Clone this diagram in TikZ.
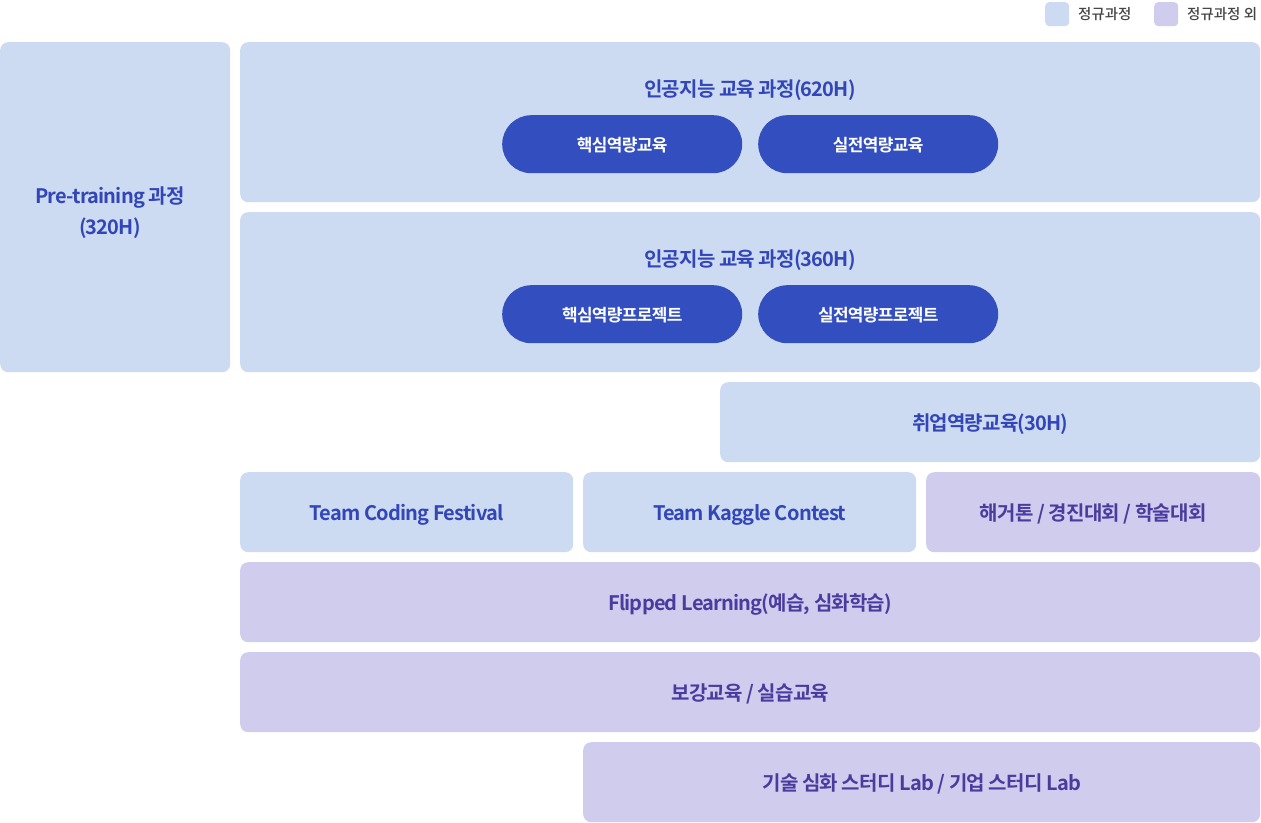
\documentclass[tikz,border=0pt]{standalone}
\usepackage{fontspec}
\setmainfont{Noto Sans CJK KR}[UprightFont=* Medium,BoldFont=* Bold]
\newfontfamily\boxfont{Noto Sans CJK KR}[UprightFont=* Bold,LetterSpace=-4]
\usepackage{xcolor}
\definecolor{regbg}{HTML}{CCDBF1}
\definecolor{regtext}{HTML}{3346B8}
\definecolor{extbg}{HTML}{D0CCEE}
\definecolor{exttext}{HTML}{4A3B9E}
\definecolor{pillbg}{HTML}{334EBF}
\definecolor{legtext}{HTML}{444444}
\tikzset{x=1pt,y=-1pt,
 box/.style={anchor=north west,inner sep=0pt,rounded corners=8pt,text depth=0pt,
  font=\boxfont\fontsize{20}{24}\selectfont},
 regular/.style={box,fill=regbg,text=regtext},
 extra/.style={box,fill=extbg,text=exttext},
 pill/.style={anchor=north west,inner sep=0pt,rounded corners=29pt,fill=pillbg,text=white,text depth=0pt,
  minimum width=240pt,minimum height=58pt,font=\boxfont\fontsize{17}{20}\selectfont},
 legbox/.style={anchor=north west,inner sep=0pt,rounded corners=4pt,minimum size=24pt},
 legend/.style={anchor=west,inner sep=0pt,text=legtext,font=\fontsize{14.5}{16}\selectfont},
 }

\begin{document}
\begin{tikzpicture}
        \useasboundingbox (0,0) rectangle (1261,822);
        % legend
        \node[legbox,fill=regbg] (legreg) at (1045,2) {};
        \node[legend] (legregtext) at (1078,14) {정규과정};
        \node[legbox,fill=extbg] (legext) at (1154,2) {};
        \node[legend] (legexttext) at (1187,14) {정규과정 외};
        % regular courses
        \node[regular,minimum width=230pt,minimum height=330pt] (pre) at (0,42) {};
        \node[regular,anchor=center,fill=none,align=center,text depth=] (pretitle) at (110,213)
            {Pre-training 과정\\[7pt](320H)};
        \node[regular,minimum width=1020pt,minimum height=160pt] (ai620) at (240,42) {};
        \node[regular,anchor=center,fill=none] (ai620title) at (750,88) {인공지능 교육 과정(620H)};
        \node[pill] (core620) at (502,115) {핵심역량교육};
        \node[pill] (prac620) at (758,115) {실전역량교육};
        \node[regular,minimum width=1020pt,minimum height=160pt] (ai360) at (240,212) {};
        \node[regular,anchor=center,fill=none] (ai360title) at (750,258) {인공지능 교육 과정(360H)};
        \node[pill] (core360) at (502,285) {핵심역량프로젝트};
        \node[pill] (prac360) at (758,285) {실전역량프로젝트};
        \node[regular,minimum width=540pt,minimum height=80pt] (job) at (720,382) {취업역량교육(30H)};
        \node[regular,minimum width=333pt,minimum height=80pt] (coding) at (240,472) {Team Coding Festival};
        \node[regular,minimum width=333pt,minimum height=80pt] (kaggle) at (583,472) {Team Kaggle Contest};
        % extra courses
        \node[extra,minimum width=334pt,minimum height=80pt] (hackathon) at (926,472) {해거톤 / 경진대회 / 학술대회};
        \node[extra,minimum width=1020pt,minimum height=80pt] (flipped) at (240,562) {Flipped Learning(예습, 심화학습)};
        \node[extra,minimum width=1020pt,minimum height=80pt] (extra) at (240,652) {보강교육 / 실습교육};
        \node[extra,minimum width=677pt,minimum height=80pt] (lab) at (583,742) {기술 심화 스터디 Lab / 기업 스터디 Lab};
    \end{tikzpicture}
\end{document}
